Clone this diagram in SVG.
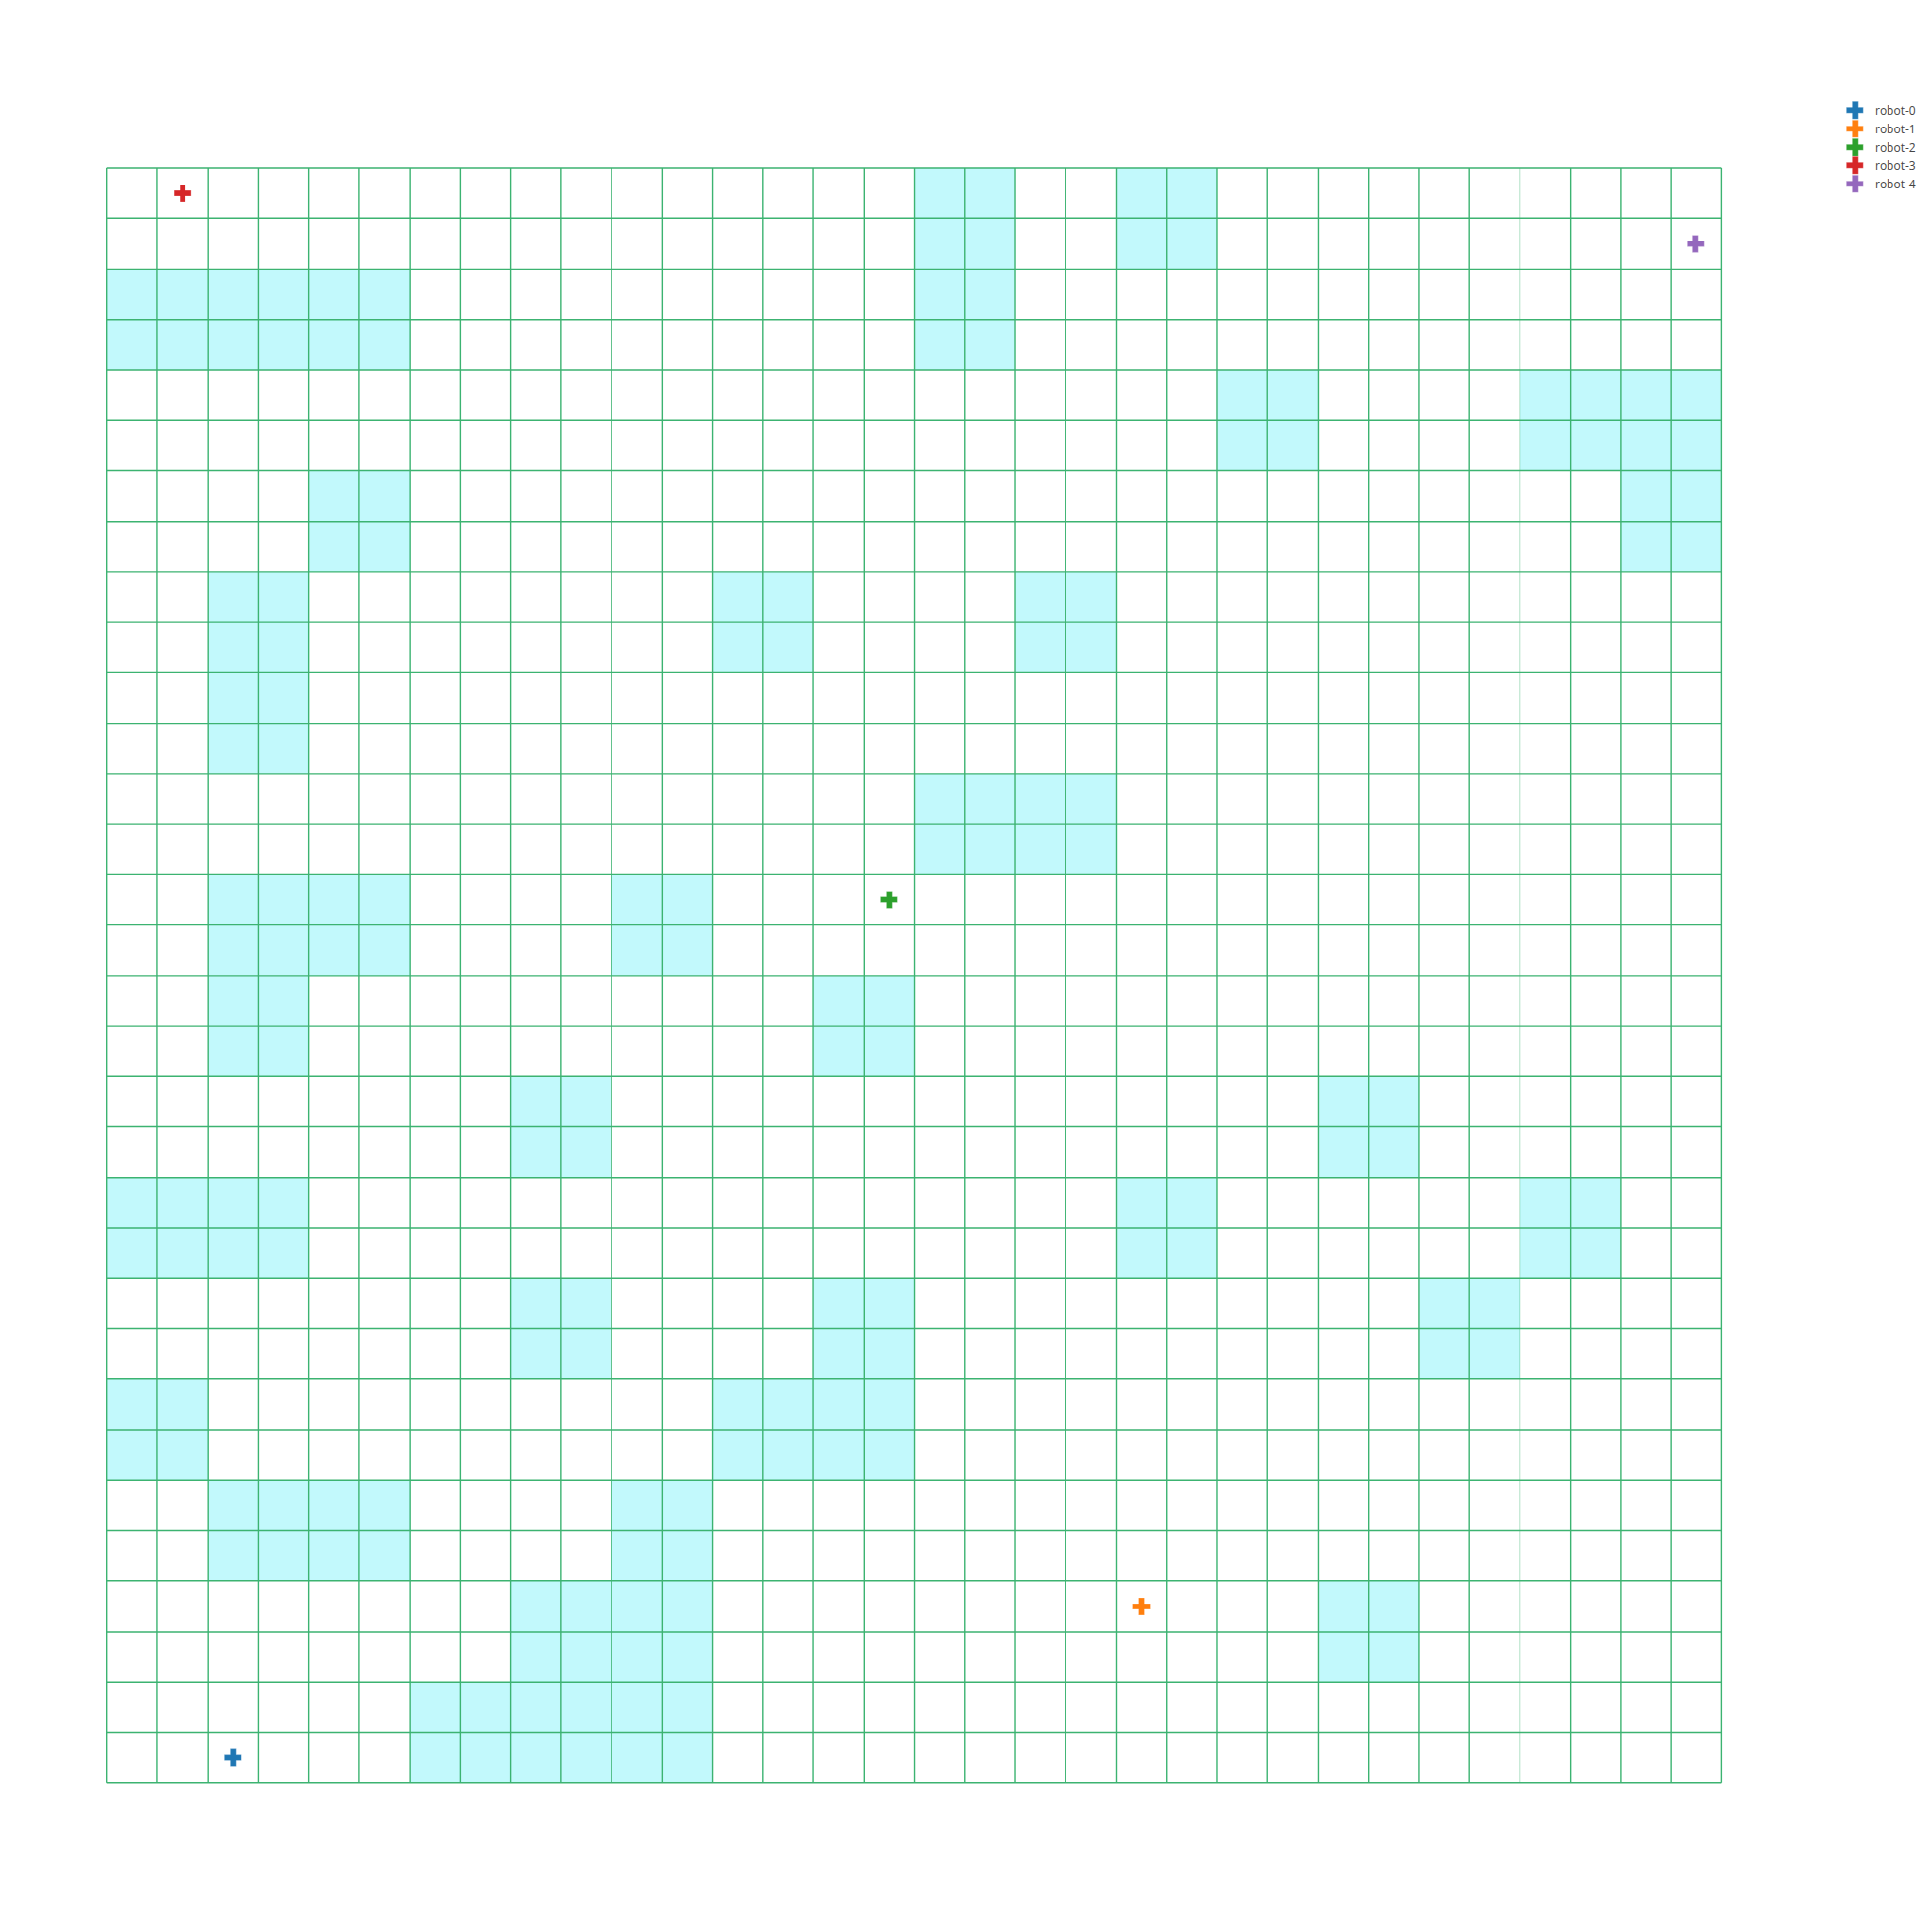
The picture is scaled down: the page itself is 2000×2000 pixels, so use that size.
<svg xmlns="http://www.w3.org/2000/svg" width="2000" height="2000" viewBox="0 0 2000 2000">
<style>
.obs{fill:#c2f9fc;stroke:none}
.grid{fill:none;stroke:#3cb371;stroke-width:1.4}
.lbl{font-family:"Open Sans","Liberation Sans",sans-serif;font-size:12px;fill:#444}
.mk{stroke:#ffffff;stroke-width:0.5;stroke-opacity:0.6}
</style>
<defs>
<path id="cross" d="M9,3H3V9H-3V3H-9V-3H-3V-9H3V-3H9Z"/>
</defs>
<rect width="2000" height="2000" fill="#ffffff"/>
<g id="obstacles" transform="translate(110.7,174) scale(52.24)">
<rect class="obs" x="16" y="0" width="2" height="4"/>
<rect class="obs" x="20" y="0" width="2" height="2"/>
<rect class="obs" x="0" y="2" width="6" height="2"/>
<rect class="obs" x="22" y="4" width="2" height="2"/>
<rect class="obs" x="28" y="4" width="4" height="2"/>
<rect class="obs" x="30" y="6" width="2" height="2"/>
<rect class="obs" x="4" y="6" width="2" height="2"/>
<rect class="obs" x="2" y="8" width="2" height="4"/>
<rect class="obs" x="12" y="8" width="2" height="2"/>
<rect class="obs" x="18" y="8" width="2" height="2"/>
<rect class="obs" x="16" y="12" width="4" height="2"/>
<rect class="obs" x="2" y="14" width="4" height="2"/>
<rect class="obs" x="10" y="14" width="2" height="2"/>
<rect class="obs" x="2" y="16" width="2" height="2"/>
<rect class="obs" x="14" y="16" width="2" height="2"/>
<rect class="obs" x="8" y="18" width="2" height="2"/>
<rect class="obs" x="24" y="18" width="2" height="2"/>
<rect class="obs" x="0" y="20" width="4" height="2"/>
<rect class="obs" x="20" y="20" width="2" height="2"/>
<rect class="obs" x="28" y="20" width="2" height="2"/>
<rect class="obs" x="8" y="22" width="2" height="2"/>
<rect class="obs" x="14" y="22" width="2" height="2"/>
<rect class="obs" x="26" y="22" width="2" height="2"/>
<rect class="obs" x="0" y="24" width="2" height="2"/>
<rect class="obs" x="12" y="24" width="4" height="2"/>
<rect class="obs" x="2" y="26" width="4" height="2"/>
<rect class="obs" x="10" y="26" width="2" height="2"/>
<rect class="obs" x="8" y="28" width="4" height="2"/>
<rect class="obs" x="24" y="28" width="2" height="2"/>
<rect class="obs" x="6" y="30" width="6" height="2"/>
</g>
<g id="grid">
<path class="grid" d="M110.7,174V1845.68M162.94,174V1845.68M215.18,174V1845.68M267.42,174V1845.68M319.66,174V1845.68M371.9,174V1845.68M424.14,174V1845.68M476.38,174V1845.68M528.62,174V1845.68M580.86,174V1845.68M633.1,174V1845.68M685.34,174V1845.68M737.58,174V1845.68M789.82,174V1845.68M842.06,174V1845.68M894.3,174V1845.68M946.54,174V1845.68M998.78,174V1845.68M1051.02,174V1845.68M1103.26,174V1845.68M1155.5,174V1845.68M1207.74,174V1845.68M1259.98,174V1845.68M1312.22,174V1845.68M1364.46,174V1845.68M1416.7,174V1845.68M1468.94,174V1845.68M1521.18,174V1845.68M1573.42,174V1845.68M1625.66,174V1845.68M1677.9,174V1845.68M1730.14,174V1845.68M1782.38,174V1845.68"/>
<path class="grid" d="M110.7,174H1782.38M110.7,226.24H1782.38M110.7,278.48H1782.38M110.7,330.72H1782.38M110.7,382.96H1782.38M110.7,435.2H1782.38M110.7,487.44H1782.38M110.7,539.68H1782.38M110.7,591.92H1782.38M110.7,644.16H1782.38M110.7,696.4H1782.38M110.7,748.64H1782.38M110.7,800.88H1782.38M110.7,853.12H1782.38M110.7,905.36H1782.38M110.7,957.6H1782.38M110.7,1009.84H1782.38M110.7,1062.08H1782.38M110.7,1114.32H1782.38M110.7,1166.56H1782.38M110.7,1218.8H1782.38M110.7,1271.04H1782.38M110.7,1323.28H1782.38M110.7,1375.52H1782.38M110.7,1427.76H1782.38M110.7,1480H1782.38M110.7,1532.24H1782.38M110.7,1584.48H1782.38M110.7,1636.72H1782.38M110.7,1688.96H1782.38M110.7,1741.2H1782.38M110.7,1793.44H1782.38M110.7,1845.68H1782.38"/>
</g>
<g id="robots">
<g id="robot-0"><use href="#cross" class="mk" fill="#1f77b4" transform="translate(241.3,1819.6)"/></g>
<g id="robot-1"><use href="#cross" class="mk" fill="#ff7f0e" transform="translate(1181.5,1662.9)"/></g>
<g id="robot-2"><use href="#cross" class="mk" fill="#2ca02c" transform="translate(920.4,931.5)"/></g>
<g id="robot-3"><use href="#cross" class="mk" fill="#d62728" transform="translate(189.1,200.1)"/></g>
<g id="robot-4"><use href="#cross" class="mk" fill="#9467bd" transform="translate(1755.3,252.4)"/></g>
</g>
<g id="legend">
<use href="#cross" class="mk" fill="#1f77b4" transform="translate(1920.3,114.3)"/>
<text class="lbl" x="1941" y="118.5">robot-0</text>
<use href="#cross" class="mk" fill="#ff7f0e" transform="translate(1920.3,133.3)"/>
<text class="lbl" x="1941" y="137.5">robot-1</text>
<use href="#cross" class="mk" fill="#2ca02c" transform="translate(1920.3,152.3)"/>
<text class="lbl" x="1941" y="156.5">robot-2</text>
<use href="#cross" class="mk" fill="#d62728" transform="translate(1920.3,171.3)"/>
<text class="lbl" x="1941" y="175.5">robot-3</text>
<use href="#cross" class="mk" fill="#9467bd" transform="translate(1920.3,190.3)"/>
<text class="lbl" x="1941" y="194.5">robot-4</text>
</g>
</svg>
